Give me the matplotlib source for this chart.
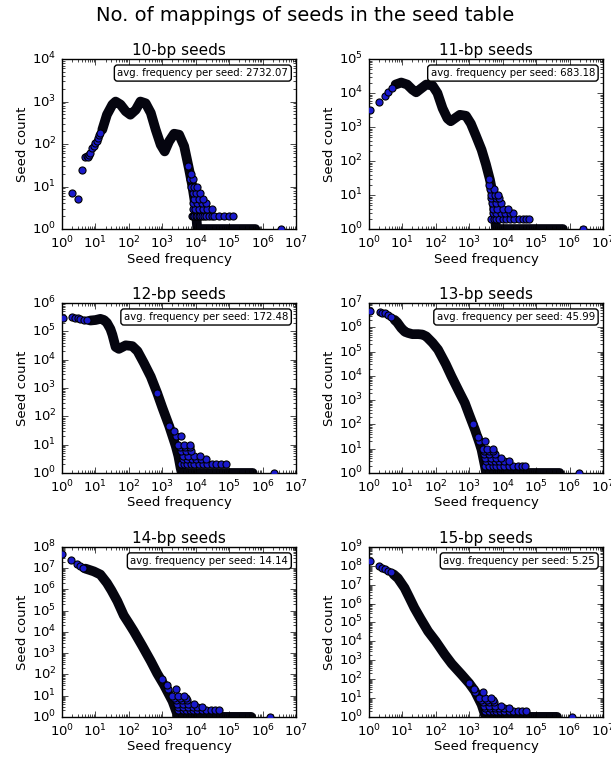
import matplotlib
matplotlib.use('agg')
import matplotlib.pyplot as plt
from matplotlib.ticker import LogLocator

plt.style.use('classic')
plt.rcParams['figure.facecolor'] = 'white'
plt.rcParams['savefig.facecolor'] = 'white'
plt.rcParams['font.family'] = ['DejaVu Sans']

titles = ['10-bp seeds', '11-bp seeds', '12-bp seeds', '13-bp seeds', '14-bp seeds', '15-bp seeds']
avg_freq = ['2732.07', '683.18', '172.48', '45.99', '14.14', '5.25']
y_top = [1e4, 1e5, 1e6, 1e7, 1e8, 1e9]

# dense part of each distribution (frequency, seed count)
freq_10 = [16, 22, 32, 40, 56, 80, 110, 160, 220, 316, 450, 630, 890, 1170, 1580, 2240, 3160,
           4470, 6300, 7900, 10000, 11000, 600000]
count_10 = [218, 490, 850, 1000, 850, 590, 490, 640, 1000, 910, 540, 218, 96, 67, 115, 175, 166,
            89, 25, 10, 3, 1, 1]

freq_11 = [6.3, 9.3, 14, 20, 26, 35, 52, 80, 112, 160, 224, 280, 400, 525, 800, 1120, 1580,
           2340, 3160, 4170, 5250, 5900, 6300, 630000]
count_11 = [17800, 20400, 17800, 12600, 10500, 13200, 17800, 16600, 10000, 3550, 1780, 1480, 1900,
            2290, 2140, 1260, 560, 214, 80, 28, 9, 2.5, 1, 1]

freq_12 = [7, 10, 14, 18, 22, 28, 32, 40, 50, 80, 126, 180, 280, 450, 700, 1000, 1600, 2500,
           3000, 3500, 3800, 500000]
count_12 = [2.4e5, 2.5e5, 2.75e5, 2.5e5, 2e5, 1.2e5, 7.6e4, 2.8e4, 2.4e4, 3.2e4, 3e4, 2e4, 7600,
            2500, 660, 200, 45, 9, 4, 1.5, 1, 1]

freq_13 = [5.9, 7, 9.3, 12, 15, 20, 30, 40, 52, 80, 117, 200, 295, 500, 740, 1000, 1480, 2000,
           2340, 2950, 3200, 500000]
count_13 = [2e6, 1.6e6, 9.3e5, 6.5e5, 5.8e5, 5.2e5, 5.2e5, 5e5, 4.2e5, 2.3e5, 1.2e5, 3e4, 9500,
            2200, 760, 250, 61, 18, 9, 1.9, 1, 1]

freq_14 = [5, 7, 9, 14, 22, 30, 45, 70, 100, 140, 250, 450, 700, 1100, 2000, 2800, 3000, 450000]
count_14 = [9.5e6, 8e6, 7e6, 5e6, 2e6, 9e5, 2.8e5, 6e4, 2.5e4, 1.07e4, 2200, 420, 110, 33, 5.5,
            1.3, 1, 1]

freq_15 = [5.5, 7.4, 11.7, 16, 23, 35, 59, 100, 186, 300, 590, 1000, 1480, 2340, 2950, 3100, 420000]
count_15 = [3.5e7, 2.2e7, 6.7e6, 2.2e6, 5.9e5, 1.6e5, 3.4e4, 1e4, 2000, 650, 174, 60, 23, 4.5,
            1.3, 1, 1]

# isolated points at low frequency and in the tail
sparse_freq_10 = [2, 3, 4, 5, 5.5, 6, 6.5, 7, 8, 9, 10, 11, 12, 13, 14,
                  7500, 8500, 9000, 10000, 11000, 12000, 13000, 15000, 17000, 20000, 25000, 30000,
                  35000, 50000, 70000, 100000, 130000,
                  8000, 9500, 12000, 16000, 22000, 30000,
                  8500, 11000, 15000, 20000,
                  9000, 12000, 16000,
                  8000, 10000, 13000,
                  7000, 9000, 11000,
                  6500, 8500, 7000, 6000,
                  3.5e6]
sparse_count_10 = [7, 5, 25, 50, 52, 50, 55, 60, 80, 90, 105, 120, 140, 160, 180,
                   2, 2, 2, 2, 2, 2, 2, 2, 2, 2, 2, 2, 2, 2, 2, 2, 2,
                   3, 3, 3, 3, 3, 3,
                   4, 4, 4, 4,
                   5, 5, 5,
                   7, 7, 7,
                   10, 10, 10,
                   15, 15, 20, 30,
                   1]

sparse_freq_11 = [1.07, 1.95, 3, 3.7, 4.9,
                  4500, 5500, 6500, 8000, 10000, 13000, 17000, 22000, 30000, 40000, 50000, 63000,
                  5000, 6500, 9000, 12000, 16000, 20000,
                  5000, 7000, 10000, 14000,
                  4800, 6500, 9000,
                  4600, 6200, 8000,
                  4500, 6000, 7500,
                  4200, 5500, 4000, 3800,
                  2.5e6]
sparse_count_11 = [3100, 5300, 8000, 11000, 14000,
                   2, 2, 2, 2, 2, 2, 2, 2, 2, 2, 2, 2,
                   3, 3, 3, 3, 3, 3,
                   4, 4, 4, 4,
                   6, 6, 6,
                   8, 8, 8,
                   10, 10, 10,
                   15, 15, 20, 30,
                   1]

sparse_freq_12 = [1.1, 2, 2.5, 3, 3.5, 4.5, 5.5, 700, 1600,
                  3500, 4500, 5500, 7000, 9000, 12000, 16000, 22000, 30000, 40000, 55000, 80000,
                  4000, 5500, 7500, 10000, 14000, 20000,
                  4000, 6000, 9000, 13000,
                  3500, 5000, 7000,
                  3300, 4800, 6500,
                  3000, 4500, 6500,
                  2500, 3500, 2300,
                  2.2e6]
sparse_count_12 = [2.95e5, 3.1e5, 3e5, 2.9e5, 2.8e5, 2.6e5, 2.45e5, 660, 45,
                   2, 2, 2, 2, 2, 2, 2, 2, 2, 2, 2, 2,
                   3, 3, 3, 3, 3, 3,
                   4, 4, 4, 4,
                   6, 6, 6,
                   8, 8, 8,
                   10, 10, 10,
                   20, 20, 30,
                   1]

sparse_freq_13 = [1.07, 2.1, 2.5, 3, 3.7, 4.5, 1300,
                  3000, 4000, 5000, 6500, 8500, 11000, 15000, 20000, 28000, 38000, 47000,
                  3200, 4500, 6000, 8000, 11000, 15000,
                  3000, 4500, 6500, 9000,
                  2800, 4000, 6000,
                  2700, 3800, 5200,
                  2500, 3500, 5000,
                  2000, 3000, 1800,
                  1.9e6]
sparse_count_13 = [4.5e6, 4.1e6, 4e6, 3.7e6, 3.3e6, 2.7e6, 107,
                   2, 2, 2, 2, 2, 2, 2, 2, 2, 2, 2,
                   3, 3, 3, 3, 3, 3,
                   4, 4, 4, 4,
                   6, 6, 6,
                   8, 8, 8,
                   10, 10, 10,
                   20, 20, 30,
                   1]

sparse_freq_14 = [1.0, 1.9, 2.8, 3.5, 4.2, 1000,
                  3000, 4000, 5000, 6500, 8500, 11000, 15000, 20000, 28000, 38000, 50000,
                  3000, 4200, 5800, 8000, 11000, 15000,
                  2800, 4000, 6000, 9000,
                  2500, 3800, 5500,
                  2300, 3400, 5000,
                  2000, 3000, 4500,
                  1500, 2500, 1400,
                  1.6e6]
sparse_count_14 = [4.4e7, 2.5e7, 1.6e7, 1.25e7, 1.05e7, 60,
                   2, 2, 2, 2, 2, 2, 2, 2, 2, 2, 2,
                   3, 3, 3, 3, 3, 3,
                   4, 4, 4, 4,
                   6, 6, 6,
                   8, 8, 8,
                   10, 10, 10,
                   20, 20, 30,
                   1]

sparse_freq_15 = [1.07, 1.95, 2.5, 3, 3.7, 4.5, 1000,
                  3000, 4000, 5000, 6500, 8500, 11000, 15000, 20000, 28000, 38000, 50000,
                  3000, 4200, 5800, 8000, 11000, 15000,
                  2800, 4000, 6000, 9000,
                  2500, 3800, 5500,
                  2300, 3400, 5000,
                  2000, 3000, 4500,
                  1500, 2500, 1400,
                  1.2e6]
sparse_count_15 = [1.9e8, 9.3e7, 7.5e7, 6.5e7, 5.5e7, 4.5e7, 60,
                   2, 2, 2, 2, 2, 2, 2, 2, 2, 2, 2,
                   3, 3, 3, 3, 3, 3,
                   4, 4, 4, 4,
                   6, 6, 6,
                   8, 8, 8,
                   10, 10, 10,
                   20, 20, 30,
                   1]

dense = [(freq_10, count_10), (freq_11, count_11), (freq_12, count_12),
         (freq_13, count_13), (freq_14, count_14), (freq_15, count_15)]
sparse = [(sparse_freq_10, sparse_count_10), (sparse_freq_11, sparse_count_11),
          (sparse_freq_12, sparse_count_12), (sparse_freq_13, sparse_count_13),
          (sparse_freq_14, sparse_count_14), (sparse_freq_15, sparse_count_15)]

fig, axes = plt.subplots(3, 2, figsize=(6.11, 7.57))
fig.subplots_adjust(left=0.1015, right=0.987, top=0.922, bottom=0.053, wspace=0.31, hspace=0.435)
fig.suptitle('No. of mappings of seeds in the seed table', fontsize=14, y=0.992)

for i, ax in enumerate(axes.flat):
    fx, cy = dense[i]
    sx, sy = sparse[i]
    ax.plot(fx, cy, '-', color='#05050f', lw=7, solid_capstyle='round',
            solid_joinstyle='round', zorder=2)
    ax.scatter(sx, sy, s=26, c='#1a1acc', edgecolors='k', linewidths=0.8, zorder=3)
    ax.set_xscale('log')
    ax.set_yscale('log')
    ax.set_xlim(1, 1e7)
    ax.set_ylim(1, y_top[i])
    ax.xaxis.set_major_locator(LogLocator(base=10, numticks=20))
    ax.yaxis.set_major_locator(LogLocator(base=10, numticks=20))
    ax.tick_params(labelsize=9.5)
    ax.set_title(titles[i], fontsize=11, pad=3)
    ax.set_xlabel('Seed frequency', fontsize=9.5, labelpad=1)
    ax.set_ylabel('Seed count', fontsize=9.5, labelpad=2)
    ax.text(0.966, 0.947, 'avg. frequency per seed: ' + avg_freq[i], transform=ax.transAxes,
            ha='right', va='top', fontsize=7.3,
            bbox=dict(boxstyle='round,pad=0.3', fc='white', ec='k'))

plt.savefig('out.png', dpi=100)
